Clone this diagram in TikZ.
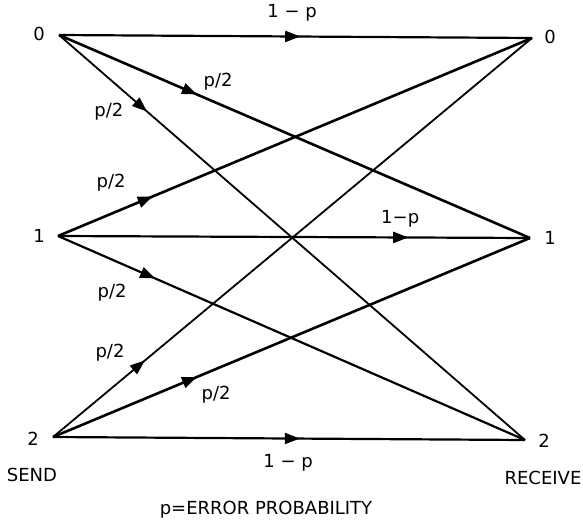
\documentclass[tikz,border=0pt]{standalone}
\usepackage{fontspec}
\setmainfont{DejaVu Sans}
\usetikzlibrary{arrows.meta,decorations.markings}
\tikzset{
  wire/.style={line width=2.2pt},
  wire thin/.style={line width=1.8pt},
  wire bold/.style={line width=2.6pt},
  arrowat/.style={postaction={decorate}, decoration={markings,
      mark=at position #1 with {\arrow{Triangle[length=15pt,width=11pt]}}}},
}
\begin{document}
\begin{tikzpicture}[x=1pt, y=-1pt, font=\fontsize{18}{21}\selectfont]
\useasboundingbox (0,0) rectangle (583,519);
% Ends
\coordinate (s0) at (59,35);
\coordinate (s1) at (58,236);
\coordinate (s2) at (53,437);
\coordinate (r0) at (532,38);
\coordinate (r1) at (530,238);
\coordinate (r2) at (525,440);
\node (s0l) at (39,34) {0};
\node (s1l) at (39,236) {1};
\node (s2l) at (33,439) {2};
\node (r0l) at (550,37) {0};
\node (r1l) at (550,238) {1};
\node (r2l) at (544,441) {2};
\node (send) at (32,475) {SEND};
\node (receive) at (543,478) {RECEIVE};
\node (errprob) at (266,510) {p=ERROR PROBABILITY};

% Channels
\draw[wire, arrowat=0.51] (s0) -- (r0) node[pos=0.493, yshift=23.5pt] (l00) {1 − p};
\draw[wire bold, arrowat=0.293] (s0) -- (r1) node[pos=0.338, yshift=21.6pt] (l01) {p/2};
\draw[wire thin, arrowat=0.189] (s0) -- (r2) node[pos=0.107, yshift=-33.6pt] (l02) {p/2};

\draw[wire bold, arrowat=0.20] (s1) -- (r0) node[pos=0.112, yshift=30.8pt] (l10) {p/2};
\draw[wire, arrowat=0.742] (s1) -- (r1) node[pos=0.725, yshift=18.4pt] (l11) {1−p};
\draw[wire, arrowat=0.208] (s1) -- (r2) node[pos=0.116, yshift=-33.4pt] (l12) {p/2};

\draw[wire thin, arrowat=0.192] (s2) -- (r0) node[pos=0.119, yshift=36.5pt] (l20) {p/2};
\draw[wire bold, arrowat=0.302] (s2) -- (r1) node[pos=0.342, yshift=-26pt] (l21) {p/2};
\draw[wire, arrowat=0.523] (s2) -- (r2) node[pos=0.498, yshift=-24.5pt] (l22) {1 − p};
\end{tikzpicture}
\end{document}
